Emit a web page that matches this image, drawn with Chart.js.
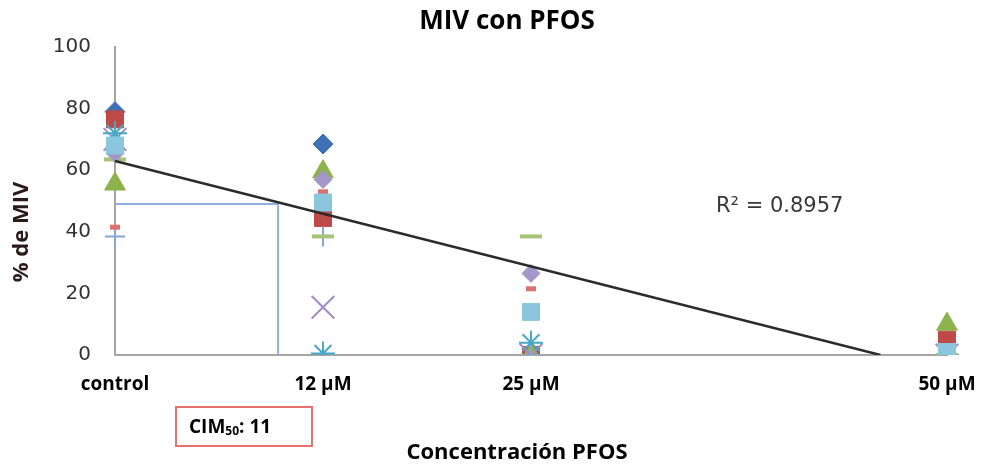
<!DOCTYPE html>
<html>
<head>
<meta charset="utf-8">
<script src="https://cdn.jsdelivr.net/npm/chart.js@4"></script>
<style>
  html, body { margin: 0; padding: 0; background: #fff; }
  #wrap { width: 982px; height: 466px; position: relative; }
</style>
</head>
<body>
<div id="wrap"><canvas id="miv"></canvas></div>
<script>
// concentrations (x) and their labels
const concentrations = [0, 12.5, 25, 50];
const tickLabels = ['control', '12 µM', '25 µM', '50 µM'];

// % MIV per replicate
const repBlueDiamond   = [79, 68.5, 0, 0];
const repRedSquare     = [76.5, 44.5, 0, 5];
const repGreenTriangle = [55.5, 59.5, 0, 10];
const repPurpleX       = [70, 15.5, 0, 0];
const repCyanStar      = [72, 0.5, 4, 0];
const repBluePlus      = [38.5, 38.5, 0, 0];
const repRedDash       = [41.5, 53, 21.5, 0];
const repGreenDash     = [63.5, 38.5, 38.5, 0];
const repPurpleDiamond = [65.5, 57, 26.5, 0];
const repCyanSquare    = [68, 49.5, 14, 1];

// linear trend and CIM50 guide
const trendX = [0, 46];
const trendY = [63, 0];
const cimX = [0, 9.8, 9.8];
const cimY = [49, 49, 0];

const series = [
  {data: repBlueDiamond,   style: 'rectRot',  color: '#3f6fb6', r: 10},
  {data: repRedSquare,     style: 'rect',     color: '#be4a47', r: 12},
  {data: repGreenTriangle, style: 'triangle', color: '#8cb24c', r: 12},
  {data: repPurpleX,       style: 'crossRot', color: '#a08cc6', r: 16, bw: 2},
  {data: repCyanStar,      style: 'star',     color: '#45a9c6', r: 12, bw: 2},
  {data: repBluePlus,      style: 'cross',    color: '#86a6d8', r: 10, bw: 2},
  {data: repRedDash,       style: 'line',     color: '#d9716f', r: 5,  bw: 5},
  {data: repGreenDash,     style: 'line',     color: '#a5c475', r: 11, bw: 4},
  {data: repPurpleDiamond, style: 'rectRot',  color: '#a496c8', r: 9},
  {data: repCyanSquare,    style: 'rect',     color: '#8ac6dc', r: 12},
];

const clipBottom = {left: false, top: false, right: false, bottom: 0};

const datasets = series.map((s, i) => ({
  data: concentrations.map((x, j) => ({x: x, y: s.data[j]})),
  pointStyle: s.style,
  pointRadius: s.r,
  backgroundColor: s.color,
  borderColor: s.color,
  pointBorderWidth: s.bw || 1,
  showLine: false,
  clip: clipBottom,
  order: 20 - i,
}));

datasets.push({
  data: cimX.map((x, i) => ({x: x, y: cimY[i]})),
  showLine: true,
  pointRadius: 0,
  borderColor: '#8fb0dc',
  borderWidth: 2,
  clip: clipBottom,
  order: 40,
});
datasets.push({
  data: trendX.map((x, i) => ({x: x, y: trendY[i]})),
  showLine: true,
  pointRadius: 0,
  borderColor: '#2b2b2b',
  borderWidth: 2.5,
  clip: clipBottom,
  order: 0,
});

const textPlugin = {
  id: 'texts',
  afterDraw(chart) {
    const ctx = chart.ctx;
    ctx.save();
    ctx.fillStyle = '#000';
    ctx.textBaseline = 'middle';
    ctx.textAlign = 'center';
    ctx.font = 'bold 26px "Open Sans"';
    ctx.fillText('MIV con PFOS', 507, 22);
    ctx.font = 'bold 22px "Open Sans"';
    ctx.fillText('Concentración PFOS', 517, 453);

    ctx.save();
    ctx.translate(22, 232);
    ctx.rotate(-Math.PI / 2);
    ctx.fillStyle = '#2a1a1a';
    ctx.font = 'bold 22px "Open Sans"';
    ctx.fillText('% de MIV', 0, 0);
    ctx.restore();

    ctx.textAlign = 'left';
    ctx.fillStyle = '#383838';
    ctx.font = '21px "DejaVu Sans"';
    ctx.fillText('R² = 0.8957', 716, 207);

    ctx.strokeStyle = '#e8716f';
    ctx.lineWidth = 2;
    ctx.strokeRect(176, 407, 136, 39);
    ctx.fillStyle = '#000';
    ctx.font = 'bold 19px "Open Sans"';
    let x = 189;
    ctx.fillText('CIM', x, 428);
    x += ctx.measureText('CIM').width;
    ctx.font = 'bold 12px "Open Sans"';
    ctx.fillText('50', x, 432);
    x += ctx.measureText('50').width;
    ctx.font = 'bold 19px "Open Sans"';
    ctx.fillText(': 11', x, 428);
    ctx.restore();
  }
};

new Chart(document.getElementById('miv'), {
  type: 'scatter',
  data: {datasets: datasets},
  options: {
    responsive: true,
    maintainAspectRatio: false,
    animation: false,
    layout: {padding: {top: 47, right: 35, left: 0, bottom: 0}},
    plugins: {legend: {display: false}, tooltip: {enabled: false}, title: {display: false}},
    scales: {
      x: {
        type: 'linear',
        min: 0,
        max: 50,
        afterFit: s => { s.height = 111; s.paddingLeft = 0; s.paddingRight = 0; },
        afterBuildTicks: s => { s.ticks = concentrations.map(v => ({value: v})); },
        grid: {display: false, drawTicks: false},
        border: {color: '#a6a6a6', width: 2},
        ticks: {
          padding: 18,
          color: '#000',
          font: {family: 'Open Sans', weight: 'bold', size: 19},
          callback: (v) => tickLabels[concentrations.indexOf(v)],
          maxRotation: 0,
          autoSkip: false,
        },
      },
      y: {
        min: 0,
        max: 100,
        afterFit: s => { s.width = 115; s.paddingTop = 0; s.paddingBottom = 0; },
        grid: {display: false, drawTicks: false},
        border: {color: '#a6a6a6', width: 2},
        ticks: {
          stepSize: 20,
          padding: 24,
          color: '#333',
          font: {family: 'DejaVu Sans', size: 20},
        },
      },
    },
  },
  plugins: [textPlugin],
});
</script>
</body>
</html>
